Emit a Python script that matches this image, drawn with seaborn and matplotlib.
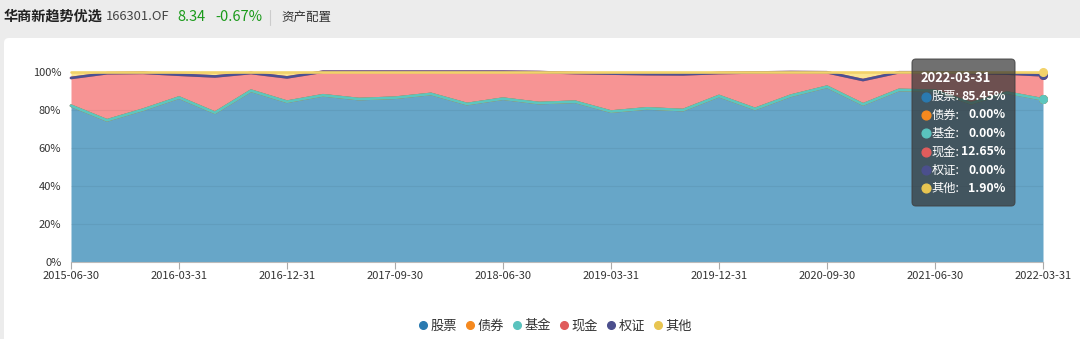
import numpy as np
import pandas as pd
import matplotlib
matplotlib.use("Agg")
import matplotlib.pyplot as plt
import seaborn as sns
from matplotlib.patches import FancyBboxPatch
from matplotlib.transforms import IdentityTransform
from matplotlib.lines import Line2D

# ---------------- data ----------------
dates = ["2015-06-30", "2015-09-30", "2015-12-31", "2016-03-31", "2016-06-30", "2016-09-30",
         "2016-12-31", "2017-03-31", "2017-06-30", "2017-09-30", "2017-12-31", "2018-03-31",
         "2018-06-30", "2018-09-30", "2018-12-31", "2019-03-31", "2019-06-30", "2019-09-30",
         "2019-12-31", "2020-03-31", "2020-06-30", "2020-09-30", "2020-12-31", "2021-03-31",
         "2021-06-30", "2021-09-30", "2021-12-31", "2022-03-31"]
stock = [82.1, 74.4, 80.0, 86.4, 78.4, 90.0, 84.2, 87.6, 85.6, 86.3, 88.3, 83.0, 85.8, 83.5,
         84.2, 79.0, 80.7, 79.8, 87.2, 80.4, 87.4, 92.1, 82.8, 90.4, 90.0, 83.4, 89.0, 85.45]
bond = [0.0] * 28
fund = [0.0] * 28
cash = [14.6, 24.8, 19.4, 12.0, 19.1, 9.3, 12.8, 12.4, 14.4, 13.7, 11.7, 17.0, 14.2, 16.3,
        15.1, 20.0, 18.0, 18.8, 12.1, 19.2, 12.4, 7.6, 12.8, 9.3, 9.7, 15.9, 10.0, 12.65]
warrant = [0.0] * 28
other = [3.3, 0.8, 0.6, 1.6, 2.5, 0.7, 3.0, 0.0, 0.0, 0.0, 0.0, 0.0, 0.0, 0.2,
         0.7, 1.0, 1.3, 1.4, 0.7, 0.4, 0.2, 0.3, 4.4, 0.3, 0.3, 0.7, 1.0, 1.90]

names = ["股票", "债券", "基金", "现金", "权证", "其他"]
values = [stock, bond, fund, cash, warrant, other]
line_colors = ["#2a7ab0", "#f5891f", "#5cc6bf", "#e05c5c", "#4b5192", "#f2d26a"]
legend_colors = ["#2a7ab0", "#f5891f", "#5ac3be", "#e05c5c", "#4b4f8d", "#e8c551"]
fill_colors = ["#67a6c8", "#f9b77e", "#a6ddd9", "#f79494", "#8f93bd", "#fbe390"]

title = "华商新趋势优选"
code = "166301.OF"
nav = "8.34"
chg = "-0.67%"
tab = "资产配置"

# ---------------- style ----------------
sns.set_theme(style="white")
plt.rcParams["font.family"] = ["Noto Sans CJK SC", "DejaVu Sans"]

W, H = 1080, 339
fig = plt.figure(figsize=(W / 100, H / 100), dpi=100, facecolor="#ececec")
ID = IdentityTransform()

# white panel
panel = FancyBboxPatch((4, -30), 1120, H - 38 + 30, boxstyle="round,pad=0,rounding_size=5",
                       fc="white", ec="none", transform=ID, zorder=-10)
fig.add_artist(panel)

ax = fig.add_axes([71 / W, 77.3 / H, 972 / W, 190 / H])
ax.set_facecolor("none")

x = np.arange(len(dates))
df = pd.DataFrame({n: v for n, v in zip(names, values)})
cum = df.cumsum(axis=1)

# areas
prev = np.zeros(len(x))
for i, n in enumerate(names):
    top = cum[n].to_numpy()
    ax.fill_between(x, prev, top, color=fill_colors[i], lw=0, zorder=1)
    prev = top

# lines (later series drawn above earlier ones)
for i, n in enumerate(names):
    sns.lineplot(x=x, y=cum[n].to_numpy(), ax=ax, color=line_colors[i], lw=1.9,
                 clip_on=False, legend=False)
    ax.lines[-1].set_zorder(3 + i)
    ax.lines[-1].set_clip_on(False)
# emphasis dots at hovered point
for i, n in enumerate(names):
    ax.plot([x[-1]], [cum[n].iloc[-1]], "o", ms=5.5, color=line_colors[i],
            zorder=10 + i, clip_on=False)

ax.set_xlim(0, len(dates) - 1)
ax.set_ylim(0, 100)
ax.set_yticks(range(0, 101, 20))
ax.set_yticklabels([f"{v}%" for v in range(0, 101, 20)])
ax.set_xticks(x[::3])
ax.set_xticklabels(dates[::3])
ax.tick_params(axis="y", length=0, pad=7, labelsize=8, labelcolor="#333333")
ax.tick_params(axis="x", length=5, width=0.8, color="#aaaaaa", pad=2, labelsize=8,
               labelcolor="#333333", bottom=True)
for s in ["top", "right", "left"]:
    ax.spines[s].set_visible(False)
ax.spines["bottom"].set_color("#bbbbbb")
ax.spines["bottom"].set_linewidth(0.8)
ax.set_axisbelow(False)
ax.grid(axis="y", color="black", alpha=0.05, lw=0.8)
ax.grid(axis="x", visible=False)
ax.set_xlabel("")
ax.set_ylabel("")

# header
fig.text(4, H - 17, title, transform=ID, fontsize=10.2, fontweight="bold", color="#222222", va="center")
fig.text(106, H - 17, code, transform=ID, fontsize=9.3, color="#444444", va="center")
fig.text(177, H - 17, nav, transform=ID, fontsize=10.5, color="#1a9a1a", va="center")
fig.text(215, H - 17, chg, transform=ID, fontsize=10.5, color="#1a9a1a", va="center")
fig.add_artist(Line2D([270, 270], [H - 25, H - 10], transform=ID, color="#cccccc", lw=0.8))
fig.text(281, H - 17, tab, transform=ID, fontsize=9, color="#333333", va="center")

# legend
handles = [Line2D([], [], marker="o", ls="", color=c, markersize=5.5) for c in legend_colors]
fig.legend(handles, names, loc="center", bbox_to_anchor=(555 / W, 13 / H), ncol=6,
           frameon=False, handletextpad=0.2, columnspacing=0.55, handlelength=0.8,
           prop={"size": 9.5}, labelcolor="#333333")

# tooltip
tip = FancyBboxPatch((912, H - 206), 103, 147, boxstyle="round,pad=0,rounding_size=4",
                     fc=(0.2, 0.2, 0.2, 0.7), ec=(0.25, 0.25, 0.25, 0.8), lw=0.8,
                     transform=ID, zorder=30)
fig.add_artist(tip)
fig.text(921, H - 78, dates[-1], transform=ID, fontsize=9.3, fontweight="bold", color="white",
         va="center", zorder=31)
row_y = [96.7, 115, 133.3, 151.7, 170, 188.3]
for i, n in enumerate(names):
    yy = H - row_y[i]
    fig.add_artist(Line2D([925.5], [yy], marker="o", ms=6.3, color=legend_colors[i], ls="",
                          transform=ID, zorder=31))
    fig.text(931.5, yy, n + ":", transform=ID, fontsize=8.8, color="white", va="center", zorder=31)
    fig.text(1005.5, yy, f"{values[i][-1]:.2f}%", transform=ID, fontsize=8.8, fontweight="bold",
             color="white", va="center", ha="right", zorder=31)

fig.savefig("out.png", dpi=100, facecolor=fig.get_facecolor())
